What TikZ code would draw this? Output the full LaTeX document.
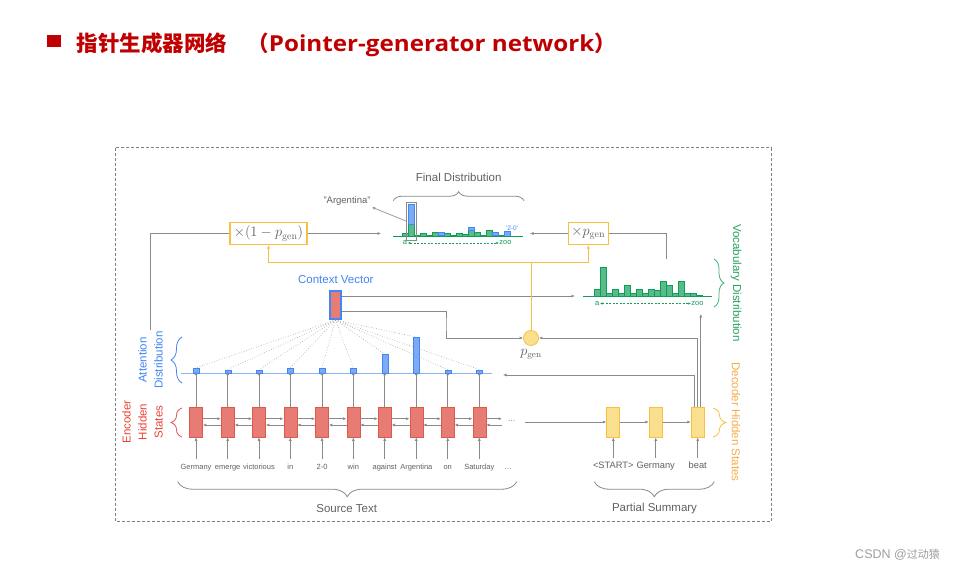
\documentclass[tikz,border=0pt]{standalone}
\usepackage[no-math]{fontspec}
\setmainfont{Liberation Sans}
\newfontfamily\cjk{Noto Sans CJK SC}
\newfontfamily\titlelat{Open Sans}[FakeStretch=1.1]
\usetikzlibrary{arrows.meta,decorations.pathreplacing,calc}
\definecolor{encfill}{HTML}{E67C73}
\definecolor{encdraw}{HTML}{E0574C}
\definecolor{enctext}{HTML}{EA4335}
\definecolor{gblue}{HTML}{4285F4}
\definecolor{bluefill}{HTML}{7BAAF7}
\definecolor{attline}{HTML}{8AB4F8}
\definecolor{ggreen}{HTML}{0F9D58}
\definecolor{greenfill}{HTML}{57BB8A}
\definecolor{vocabtext}{HTML}{27A25F}
\definecolor{gyellow}{HTML}{F7C043}
\definecolor{yellowfill}{HTML}{FADF8E}
\definecolor{decotext}{HTML}{F6AB4A}
\definecolor{linegray}{HTML}{8A8A8A}
\definecolor{textgray}{HTML}{616161}
\definecolor{framegray}{HTML}{7F7F7F}
\definecolor{titlered}{HTML}{C00000}
\definecolor{markgray}{HTML}{9E9E9E}
\tikzset{
  conn/.style={draw=linegray, line width=0.8pt},
  arr/.style={conn, -{Latex[length=3.5pt,width=3pt]}},
  yline/.style={draw=gyellow, line width=1pt},
  yarr/.style={yline, -{Latex[length=3.5pt,width=3pt]}},
  dotline/.style={draw=linegray!85, line width=0.6pt, dotted},
  encbox/.style={fill=encfill, draw=encdraw, line width=0.6pt, minimum width=13pt, minimum height=30pt, inner sep=0pt},
  decbox/.style={fill=yellowfill, draw=gyellow, line width=0.8pt, minimum width=13pt, minimum height=30pt, inner sep=0pt},
  attbar/.style={fill=bluefill, draw=gblue, line width=0.4pt, minimum width=6pt, inner sep=0pt, anchor=south},
  word/.style={font=\fontsize{7.5}{9}\selectfont, text=textgray, text height=5.5pt, text depth=1.5pt, inner sep=0pt},
  dword/.style={font=\fontsize{9.3}{11}\selectfont, text=textgray, text height=7pt, text depth=2pt, inner sep=0pt},
  lbl/.style={font=\fontsize{11.5}{13}\selectfont, text=textgray},
  pbox/.style={draw=gyellow, fill=white, line width=1.2pt, text=textgray, font=\fontsize{14.5}{16}\selectfont, inner sep=0pt, minimum height=22pt},
  gbrace/.style={draw=linegray, line width=0.8pt, decorate, decoration={brace, amplitude=#1}},
  vbar/.style={draw=ggreen, fill=greenfill, line width=0.4pt},
  bbar/.style={draw=gblue, fill=bluefill, line width=0.4pt},
  tiny/.style={font=\fontsize{7.5}{8}\selectfont, inner sep=0.5pt},
  garr/.style={draw=ggreen, line width=0.6pt, dash pattern=on 2pt off 1.5pt, {Latex[length=2.5pt,width=2.5pt]}-{Latex[length=2.5pt,width=2.5pt]}},
  rlbl/.style={font=\fontsize{11.5}{16}\selectfont, align=center}
}
\begin{document}
\begin{tikzpicture}[x=1pt,y=-1pt]
\useasboundingbox (0,0) rectangle (955,572);
\fill[white] (0,0) rectangle (955,572);

% title
\fill[titlered] (46.7,35) rectangle (61,46.7);
\node[anchor=base west, inner sep=0pt, text=titlered, font=\cjk\bfseries\fontsize{21.5}{24}\selectfont] (title) at (76.7,51.5) {指针生成器网络\hspace{20pt}（{\titlelat\bfseries\fontsize{22}{24}\selectfont Pointer-generator network}）};

% watermark
\node[anchor=base east, inner sep=0pt, text=markgray, font=\fontsize{12.5}{14}\selectfont] (wm) at (940,558) {CSDN @{\cjk\fontsize{11}{13}\selectfont 过动猿}};

% frame
\draw[framegray, line width=1pt, dash pattern=on 3pt off 2pt] (115,148) rectangle (771.5,521);

% attention line
\draw[attline, line width=1pt] (181,373.5) -- (492,373.5);

% context vector
\node[draw=gblue, line width=2pt, fill=encfill, minimum width=11pt, minimum height=28pt, inner sep=0pt] (cv) at (335.5,305) {};
\node[lbl, text=gblue] (cvl) at (335.8,280) {Context Vector};

% encoder
\foreach \i/\x/\w/\h in {1/196/Germany/5.3, 2/227.7/emerge/3.5, 3/259/victorious/3.5, 4/290.3/in/5.3, 5/322/2-0/5.3, 6/353.3/win/5.3, 7/384.7/against/19, 8/416.3/Argentina/36, 9/447.7/on/3.5, 10/479.3/Saturday/3.5} {
  \node[encbox] (e\i) at (\x,422) {};
  \node[word] (w\i) at (\x,467) {\w};
  \node[attbar, minimum height=\h pt] (a\i) at (\x,373.5) {};
}
\foreach \i in {1,...,10} {
  \draw[arr, shorten <=4.5pt] (w\i.north) -- (e\i.south);
  \draw[arr, shorten >=-2pt] (e\i.north) -- (a\i.south);
  \draw[dotline] (cv.south) -- (a\i.north);
}
\foreach \i/\j in {1/2,2/3,3/4,4/5,5/6,6/7,7/8,8/9,9/10} {
  \draw[arr] ($(e\i.east)+(0,-3.3)$) -- ($(e\j.west)+(0,-3.3)$);
  \draw[arr] ($(e\j.west)+(0,3)$) -- ($(e\i.east)+(0,3)$);
}
\coordinate (eout) at (502,422);
\draw[arr] ($(e10.east)+(0,-3.3)$) -- ($(eout)+(0,-3.3)$);
\draw[arr] ($(eout)+(0,3)$) -- ($(e10.east)+(0,3)$);
\node[word] (edots) at (511.5,419) {\ldots};
\node[word] (wdots) at (508,467) {\ldots};

% decoder
\node[decbox] (d1) at (613.3,422) {};
\node[decbox] (d2) at (655.7,422) {};
\node[decbox] (d3) at (697.7,422) {};
\node[dword] (dw1) at (613.3,466) {\textless START\textgreater};
\node[dword] (dw2) at (655.7,466) {Germany};
\node[dword] (dw3) at (697.7,466) {beat};
\foreach \i in {1,2,3} { \draw[arr, shorten <=3pt] (dw\i.north) -- (d\i.south); }
\coordinate (dstart) at (525,422);
\draw[arr] (dstart) -- (d1.west);
\draw[arr] (d1.east) -- (d2.west);
\draw[arr] (d2.east) -- (d3.west);

% p_gen
\node[circle, fill=yellowfill, draw=gyellow, line width=0.8pt, minimum size=15pt, inner sep=0pt] (pg) at (531,338) {};
\node[text=textgray, font=\fontsize{13.5}{15}\selectfont, inner sep=0pt] (pgl) at (531,354) {$p_{\mathrm{gen}}$};

% decoder outputs
\coordinate (attin) at (503,375);
\coordinate (vocin) at (700.8,314);
\draw[arr] ($(d3.north)+(-3.4,0)$) |- (attin);
\draw[arr] (d3.north) |- (pg.east);
\draw[arr] ($(d3.north)+(3.1,0)$) -- (vocin);

% context vector outputs
\coordinate (vocl) at (575,296);
\coordinate (cvbend) at (446,324);
\draw[arr] ($(cv.east)+(0,-9)$) -- (vocl);
\draw[arr] ($(cv.east)+(0,6)$) -| (cvbend) |- (pg.west);

% multiplier boxes
\node[pbox, minimum width=77pt] (m1) at (268.5,233.5) {$\times(1-p_{\mathrm{gen}})$};
\node[pbox, minimum width=40pt] (m2) at (588.3,233.5) {$\times p_{\mathrm{gen}}$};
\coordinate (yj) at (531,262);
\draw[yline] (pg.north) -- (yj);
\draw[yarr] (yj) -| (m1.south);
\draw[yarr] (yj) -| (m2.south);

\coordinate (attout) at (150,330);
\coordinate (fdin) at (381,233.5);
\coordinate (fdin2) at (530,233.5);
\coordinate (vocout) at (666,259);
\draw[conn] (attout) |- (m1.west);
\draw[arr] (m1.east) -- (fdin);
\draw[arr] (m2.west) -- (fdin2);
\draw[conn] (vocout) |- (m2.east);

% distributions
\foreach \h [count=\k from 0] in {7.5,29,3,7.5,3,11,3,7.5,3,7.5,6,15.5,11,3,15.5,3,3,1.5} {
  \draw[vbar] (594+6*\k,296.5) rectangle ++(6,-\h);
  \draw[vbar] (402+6*\k,236.5) rectangle ++(6,-0.43*\h);
}
\foreach \k/\g/\b in {1/12.47/20, 6/1.29/3.3, 11/6.67/3, 15/1.29/3, 17/0.65/4.5} {
  \draw[bbar] (402+6*\k,236.5-\g) rectangle ++(6,-\b);
}
\draw[ggreen, line width=0.8pt] (393,236.5) -- (523,236.5);
\draw[ggreen, line width=0.8pt] (583,296.5) -- (712,296.5);
\draw[linegray, line width=0.7pt] (406,202) rectangle (416,240);

\node[tiny, text=ggreen] (fa) at (405,243) {a};
\node[tiny, text=ggreen] (fz) at (505.5,243) {zoo};
\draw[garr] (fa.east) -- (fz.west);
\node[tiny, text=ggreen] (va) at (597.3,303.5) {a};
\node[tiny, text=ggreen] (vz) at (697.5,303.5) {zoo};
\draw[garr] (va.east) -- (vz.west);
\node[tiny, text=gblue, font=\fontsize{6.5}{7}\selectfont] (two) at (512,228.3) {'2-0'};

\node[text=textgray, font=\fontsize{9.5}{11}\selectfont, inner sep=1pt] (argl) at (347,201.5) {"Argentina"};
\coordinate (argbar) at (406,221);
\draw[arr, draw=linegray!85] (argbar) -- (argl.south east);

% braces and labels
\draw[gbrace=9pt] (393.3,200.7) -- (524,200.7);
\node[lbl] (fdl) at (458.7,177.3) {Final Distribution};
\draw[gbrace=15pt] (516.7,481.7) -- (177.7,481.7);
\node[lbl] (stl) at (346.7,508.3) {Source Text};
\draw[gbrace=15pt] (714.3,481.7) -- (594.3,481.7);
\node[lbl] (psl) at (654.5,508.3) {Partial Summary};

\draw[gbrace=11pt, draw=encdraw] (182,437) -- (182,408);
\node[rlbl, rotate=90, text=enctext] (encl) at (142.5,422) {Encoder\\Hidden\\States};
\draw[gbrace=11pt, draw=gblue] (182,383) -- (182,337);
\node[rlbl, rotate=90, text=gblue] (attl) at (150.5,360) {Attention\\Distribution};
\draw[gbrace=10pt, draw=ggreen!80] (714,259) -- (714,307);
\node[rlbl, rotate=-90, text=vocabtext] (vocl2) at (736,283) {Vocabulary Distribution};
\draw[gbrace=13pt, draw=gyellow] (713,408) -- (713,437);
\node[rlbl, rotate=-90, text=decotext] (decl) at (736,422) {Decoder Hidden States};
\end{tikzpicture}
\end{document}
